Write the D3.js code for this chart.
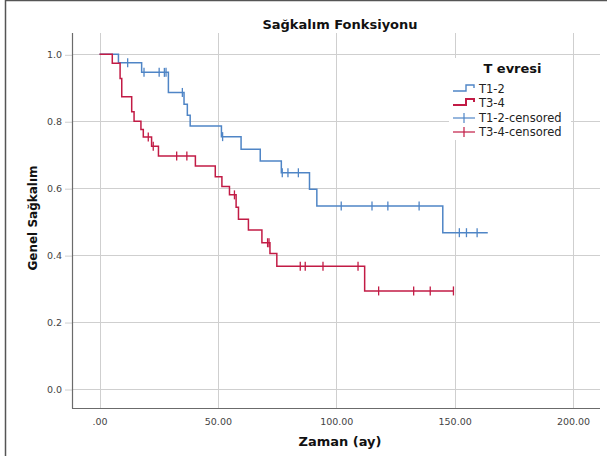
<!DOCTYPE html>
<html>
<head>
<meta charset="utf-8">
<script src="https://cdn.jsdelivr.net/npm/d3@7"></script>
<style>
  html, body { margin: 0; padding: 0; background: #fff; }
  svg { display: block; }
</style>
</head>
<body>
<svg id="chart" width="607" height="456"></svg>
<script>
// ---------------- data ----------------
const chartTitle = "Sağkalım Fonksiyonu";
const xTitle = "Zaman (ay)";
const yTitle = "Genel Sağkalım";
const legendTitle = "T evresi";
const legendLabels = ["T1-2", "T3-4", "T1-2-censored", "T3-4-censored"];

const xTicks = [0, 50, 100, 150, 200];
const xTickLabels = [".00", "50.00", "100.00", "150.00", "200.00"];
const yTicks = [0, 0.2, 0.4, 0.6, 0.8, 1.0];
const yTickLabels = ["0.0", "0.2", "0.4", "0.6", "0.8", "1.0"];

// T1-2 group
const blueEventTimes = [8.0, 17.8, 29.1, 35.7, 37.1, 38.3, 51.5, 59.8, 67.9, 76.8, 88.7, 91.8, 145.0];
const blueSurvival   = [0.975, 0.946, 0.886, 0.851, 0.818, 0.786, 0.754, 0.716, 0.681, 0.646, 0.597, 0.547, 0.467];
const blueCensored   = [11.9, 18.8, 25.2, 27.4, 28.1, 35.0, 52.0, 77.2, 79.6, 84.0, 102.1, 115.1, 121.8, 135.0, 152.0, 155.0, 159.5];
const blueLastTime   = 164.0;

// T3-4 group
const redEventTimes = [5.4, 8.7, 9.4, 13.6, 14.6, 17.5, 18.5, 22.0, 24.9, 40.5, 48.9, 51.7, 54.9, 57.7, 58.7, 62.9, 68.6, 72.0, 74.9, 112.0];
const redSurvival   = [0.973, 0.928, 0.873, 0.828, 0.800, 0.775, 0.753, 0.725, 0.696, 0.666, 0.634, 0.605, 0.580, 0.543, 0.507, 0.475, 0.437, 0.405, 0.367, 0.293];
const redCensored   = [20.6, 22.7, 32.6, 36.9, 57.0, 71.0, 71.6, 84.8, 86.9, 94.4, 109.2, 117.9, 132.7, 139.7, 149.5];
const redLastTime   = 149.5;

// ---------------- layout ----------------
const BLUE = "#4f85c6";
const RED = "#c21b45";
const GRID = "#cfcfcf";
const AXIS = "#6b6b6b";
const FONT = "'DejaVu Sans', sans-serif";

const plotLeft = 72, plotRight = 600, plotTop = 33, plotBottom = 408;

const x = d3.scaleLinear().domain([0, 200]).range([99.5, 573]);
const y = d3.scaleLinear().domain([0, 1]).range([389, 54.3]);

const svg = d3.select("#chart");

// outer frame (left and top visible)
svg.append("rect").attr("x", 5.5).attr("y", 0.5).attr("width", 620).attr("height", 470)
  .attr("fill", "none").attr("stroke", "#555").attr("stroke-width", 1.5);

// gridlines
svg.append("g").selectAll("line").data(yTicks).join("line")
  .attr("x1", plotLeft).attr("x2", plotRight)
  .attr("y1", d => Math.round(y(d)) + 0.5).attr("y2", d => Math.round(y(d)) + 0.5)
  .attr("stroke", GRID).attr("stroke-width", 1);
svg.append("g").selectAll("line").data(xTicks).join("line")
  .attr("x1", d => Math.round(x(d)) + 0.5).attr("x2", d => Math.round(x(d)) + 0.5)
  .attr("y1", plotTop).attr("y2", plotBottom)
  .attr("stroke", GRID).attr("stroke-width", 1);

// y axis (ticks + labels)
const yAxis = d3.axisLeft(y).tickValues(yTicks).tickSize(7).tickPadding(3)
  .tickFormat((d, i) => yTickLabels[i]);
const gy = svg.append("g").attr("transform", `translate(${plotLeft},0)`).call(yAxis);
gy.select(".domain").remove();
gy.selectAll(".tick line").attr("stroke", GRID).attr("transform", "translate(0,0.5)");
gy.selectAll(".tick text").attr("font-family", FONT).attr("font-size", 9.5).attr("fill", "#444");

// x axis labels
const xAxis = d3.axisBottom(x).tickValues(xTicks).tickSize(0).tickPadding(10)
  .tickFormat((d, i) => xTickLabels[i]);
const gx = svg.append("g").attr("transform", `translate(0,${plotBottom})`).call(xAxis);
gx.select(".domain").remove();
gx.selectAll(".tick text").attr("font-family", FONT).attr("font-size", 9.5).attr("fill", "#444");

// axis lines
svg.append("line").attr("x1", plotLeft + 0.5).attr("x2", plotLeft + 0.5)
  .attr("y1", plotTop).attr("y2", plotBottom + 0.5).attr("stroke", AXIS).attr("stroke-width", 1.2);
svg.append("line").attr("x1", plotLeft).attr("x2", plotRight)
  .attr("y1", plotBottom + 0.5).attr("y2", plotBottom + 0.5).attr("stroke", AXIS).attr("stroke-width", 1.2);

// ---------------- curves ----------------
function stepPoints(times, surv, lastTime) {
  const pts = [[0, 1]];
  let prev = 1;
  times.forEach((t, i) => { pts.push([t, prev]); pts.push([t, surv[i]]); prev = surv[i]; });
  pts.push([lastTime, prev]);
  return pts;
}
function survAt(times, surv, t) {
  let s = 1;
  times.forEach((e, i) => { if (e <= t) s = surv[i]; });
  return s;
}
const line = d3.line().x(d => x(d[0])).y(d => y(d[1]));

function drawGroup(times, surv, cens, lastTime, color) {
  const g = svg.append("g");
  g.append("path").datum(stepPoints(times, surv, lastTime))
    .attr("d", line).attr("fill", "none").attr("stroke", color).attr("stroke-width", 1.5);
  g.selectAll("line.c").data(cens).join("line").attr("class", "c")
    .attr("x1", d => x(d)).attr("x2", d => x(d))
    .attr("y1", d => y(survAt(times, surv, d)) - 4.5)
    .attr("y2", d => y(survAt(times, surv, d)) + 4.5)
    .attr("stroke", color).attr("stroke-width", 1.3);
}
drawGroup(blueEventTimes, blueSurvival, blueCensored, blueLastTime, BLUE);
drawGroup(redEventTimes, redSurvival, redCensored, redLastTime, RED);

// ---------------- legend ----------------
const lg = svg.append("g");
lg.append("rect").attr("x", 449).attr("y", 58).attr("width", 122).attr("height", 82).attr("fill", "#fff");
lg.append("text").attr("x", 512.5).attr("y", 73).attr("text-anchor", "middle")
  .attr("font-family", FONT).attr("font-weight", "bold").attr("font-size", 13).attr("fill", "#111")
  .text(legendTitle);
const rowBase = [93, 107, 122, 136];
const rowColor = [BLUE, RED, BLUE, RED];
legendLabels.forEach((lab, i) => {
  const b = rowBase[i];
  if (i < 2) {
    lg.append("path")
      .attr("d", `M453,${b - 2}H466V${b - 8}H474V${b - 5}`)
      .attr("fill", "none").attr("stroke", rowColor[i]).attr("stroke-width", i === 1 ? 2 : 1.4);
  } else {
    lg.append("line").attr("x1", 453).attr("x2", 475).attr("y1", b - 4).attr("y2", b - 4)
      .attr("stroke", rowColor[i]).attr("stroke-width", 1.2);
    lg.append("line").attr("x1", 464).attr("x2", 464).attr("y1", b - 9).attr("y2", b + 1)
      .attr("stroke", rowColor[i]).attr("stroke-width", 1.2);
  }
  lg.append("text").attr("x", 479).attr("y", b)
    .attr("font-family", FONT).attr("font-size", 11.5).attr("fill", "#222").text(lab);
});

// ---------------- titles ----------------
svg.append("text").attr("x", 340).attr("y", 29).attr("text-anchor", "middle")
  .attr("font-family", FONT).attr("font-weight", "bold").attr("font-size", 13).attr("fill", "#111")
  .text(chartTitle);
svg.append("text").attr("x", 340).attr("y", 446).attr("text-anchor", "middle")
  .attr("font-family", FONT).attr("font-weight", "bold").attr("font-size", 13).attr("fill", "#111")
  .text(xTitle);
svg.append("text").attr("transform", "translate(37,218) rotate(-90)").attr("text-anchor", "middle")
  .attr("font-family", FONT).attr("font-weight", "bold").attr("font-size", 12).attr("fill", "#111")
  .text(yTitle);
</script>
</body>
</html>
